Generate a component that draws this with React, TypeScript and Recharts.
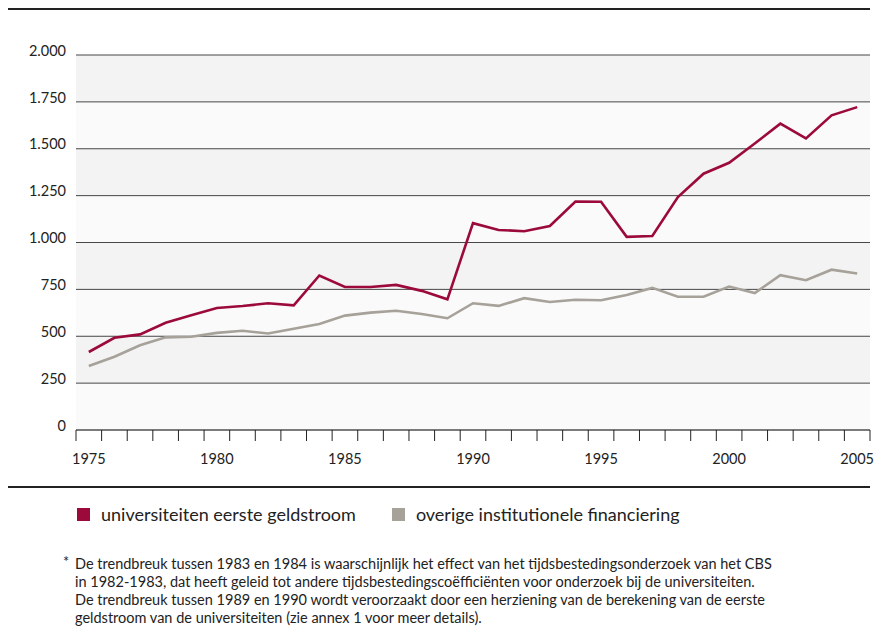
import * as React from "react"
import { LineChart, Line, XAxis, YAxis, CartesianGrid } from "recharts"

// kleuren uit de figuur
const RED = "#9c0a3c"
const GREY = "#a6a199"
const FONT = "Lato, 'Noto Sans', sans-serif"

const years = [
  1975, 1976, 1977, 1978, 1979, 1980, 1981, 1982, 1983, 1984, 1985,
  1986, 1987, 1988, 1989, 1990, 1991, 1992, 1993, 1994, 1995, 1996,
  1997, 1998, 1999, 2000, 2001, 2002, 2003, 2004, 2005,
]

const eersteGeldstroom = [
  416, 492, 510, 572, 612, 651, 661, 676, 665, 824, 763,
  763, 774, 742, 697, 1103, 1067, 1060, 1088, 1219, 1217, 1030,
  1035, 1242, 1367, 1425, 1528, 1634, 1555, 1678, 1722,
]

const overigeFinanciering = [
  341, 391, 452, 494, 497, 518, 529, 515, 540, 565, 610,
  626, 636, 619, 596, 676, 662, 703, 683, 695, 692, 720,
  758, 711, 711, 765, 730, 826, 799, 855, 835,
]

const yTicks = [0, 250, 500, 750, 1000, 1250, 1500, 1750, 2000]
const labelYears = [1975, 1980, 1985, 1990, 1995, 2000, 2005]
// tickstreepjes vallen tussen de jaren
const boundaries = [...years.map(y => y - 0.5), 2005.5]

const data = years.map((year, i) => ({
  year,
  eerste: eersteGeldstroom[i],
  overig: overigeFinanciering[i],
}))

const fmt = (v: number) => v.toLocaleString("nl-NL")

function YTick({ x, y, payload }: any) {
  return (
    <text x={x} y={y} dy={-3} textAnchor="end" dominantBaseline="middle"
      fontSize={14.5} fill="#222" fontFamily={FONT}>
      {fmt(payload.value)}
    </text>
  )
}

function YearTick({ x, y, payload }: any) {
  return (
    <text x={x} y={y} dy={14} textAnchor="middle" fontSize={14.5} fill="#222" fontFamily={FONT}>
      {payload.value}
    </text>
  )
}

export default function App() {
  return (
    <div style={{ position: "absolute", left: 0, top: 0, width: 883, height: 627, background: "#fff", fontFamily: FONT }}>
      <div style={{ position: "absolute", left: 8, top: 8, width: 862, height: 2, background: "#222" }} />

      <div style={{ position: "absolute", left: 0, top: 0 }}>
        <LineChart width={883} height={480} data={data}
          margin={{ top: 55, right: 13, bottom: 8, left: 0 }}>
          <CartesianGrid vertical={false} stroke="#333" strokeOpacity={0.9}
            horizontalFill={["#f3f3f3", "#fafafa"]} fillOpacity={1} />
          <XAxis dataKey="year" type="number" domain={[1974.5, 2005.5]} ticks={boundaries}
            interval={0} height={12} tickSize={11} tickFormatter={() => ""}
            stroke="#555" tickLine={{ stroke: "#222" }} />
          <XAxis xAxisId="labels" dataKey="year" type="number" domain={[1974.5, 2005.5]}
            ticks={labelYears} interval={0} height={30} axisLine={false} tickLine={false}
            tick={<YearTick />} />
          <YAxis width={76} domain={[0, 2000]} ticks={yTicks} interval={0}
            axisLine={false} tickLine={false} tickMargin={4} tick={<YTick />} />
          <Line dataKey="overig" stroke={GREY} strokeWidth={2.6} dot={false}
            isAnimationActive={false} strokeLinejoin="miter" />
          <Line dataKey="eerste" stroke={RED} strokeWidth={2.6} dot={false}
            isAnimationActive={false} strokeLinejoin="miter" />
        </LineChart>
      </div>

      <div style={{ position: "absolute", left: 8, top: 486, width: 862, height: 1.5, background: "#222" }} />

      <div style={{ position: "absolute", left: 77, top: 502, display: "flex", alignItems: "center", fontSize: 18, color: "#222", lineHeight: "24px" }}>
        <span style={{ width: 13, height: 13, background: RED, marginRight: 11 }} />
        <span>universiteiten eerste geldstroom</span>
        <span style={{ width: 13, height: 13, background: GREY, marginLeft: 36, marginRight: 11 }} />
        <span>overige institutionele financiering</span>
      </div>

      <div style={{ position: "absolute", left: 63, top: 555, width: 820, fontSize: 14.5, color: "#222", lineHeight: "18px" }}>
        <span style={{ position: "absolute", left: 0, top: -2 }}>*</span>
        <div style={{ marginLeft: 12 }}>
          De trendbreuk tussen 1983 en 1984 is waarschijnlijk het effect van het tijdsbestedingsonderzoek van het CBS<br />
          in 1982-1983, dat heeft geleid tot andere tijdsbestedingscoëfficiënten voor onderzoek bij de universiteiten.<br />
          De trendbreuk tussen 1989 en 1990 wordt veroorzaakt door een herziening van de berekening van de eerste<br />
          geldstroom van de universiteiten (zie annex 1 voor meer details).
        </div>
      </div>
    </div>
  )
}
